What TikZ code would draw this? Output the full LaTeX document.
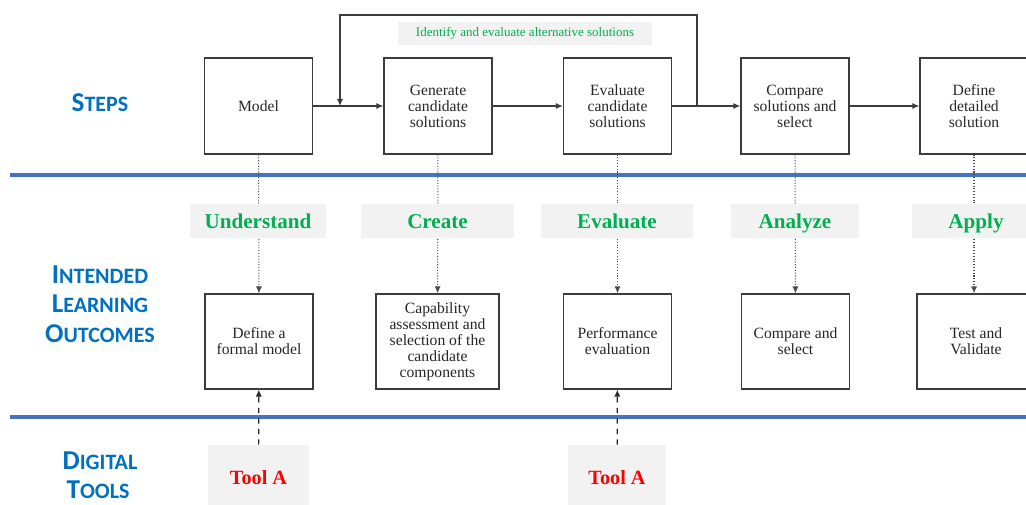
\documentclass[tikz,border=0pt]{standalone}
\usepackage{fontspec}
\setmainfont{Liberation Serif}
\newfontfamily\lanefont{Carlito}
\usetikzlibrary{arrows.meta}
\definecolor{laneblue}{RGB}{0,112,192}
\definecolor{rulerblue}{RGB}{68,114,196}
\definecolor{verbgreen}{RGB}{0,176,80}
\definecolor{tagfill}{RGB}{242,242,242}
\definecolor{edgegray}{RGB}{60,60,60}
\newcommand{\lanecap}[2]{{\fontsize{15.5}{15}\selectfont #1}{\fontsize{12.5}{15}\selectfont #2}}

\begin{document}
\begin{tikzpicture}[x=0.02cm, y=-0.02cm,
  box/.style={draw=edgegray, line width=0.7pt, fill=white, minimum width=2.16cm, minimum height=1.92cm, align=center, font=\fontsize{8.9}{9.1}\selectfont, text=black!85, inner sep=1pt},
  verb/.style={fill=tagfill, minimum height=0.68cm, text height=10.5pt, text depth=2.3pt, font=\fontsize{12}{14}\bfseries\selectfont, text=verbgreen},
  tool/.style={fill=tagfill, minimum height=1.32cm, font=\fontsize{11.5}{14}\bfseries\selectfont, text=red},
  lane/.style={font=\lanefont\bfseries, text=laneblue, align=center},
  arr/.style={-{Latex[length=4pt,width=3.5pt]}, draw=edgegray, line width=0.7pt},
  dots/.style={-{Latex[length=4pt,width=3.5pt]}, densely dotted, line width=0.6pt, draw=black!70},
  dashes/.style={-{Latex[length=4pt,width=3.5pt]}, dashed, line width=0.7pt, draw=black!85}]
  \useasboundingbox (0,0) rectangle (1026,504);
  \draw[rulerblue, line width=1.8pt] (10,175) -- (1026,175);
  \draw[rulerblue, line width=1.8pt] (10,417) -- (1026,417);

  \node[lane] (steps) at (100,103) {\lanecap{S}{TEPS}};
  \node[lane] (ilo1) at (100,275) {\lanecap{I}{NTENDED}};
  \node[lane] (ilo2) at (100,304) {\lanecap{L}{EARNING}};
  \node[lane] (ilo3) at (100,334) {\lanecap{O}{UTCOMES}};
  \node[lane] (dig1) at (100,461) {\lanecap{D}{IGITAL}};
  \node[lane] (dig2) at (98,490) {\lanecap{T}{OOLS}};

  \node[box] (model) at (258.5,106) {Model};
  \node[box] (generate) at (438,106) {Generate\\candidate\\solutions};
  \node[box] (evaluate) at (617.5,106) {Evaluate\\candidate\\solutions};
  \node[box] (compare) at (795,106) {Compare\\solutions and\\select};
  \node[box] (define) at (974,106) {Define\\detailed\\solution};

  \node[box, minimum height=1.9cm] (formal) at (259,341.5) {Define a\\formal model};
  \node[box, minimum height=1.9cm, minimum width=2.46cm] (capab) at (437.5,341.5) {Capability\\assessment and\\selection of the\\candidate\\components};
  \node[box, minimum height=1.9cm] (perf) at (617.5,341.5) {Performance\\evaluation};
  \node[box, minimum height=1.9cm] (select) at (795.5,341.5) {Compare and\\select};
  \node[box, minimum height=1.9cm, minimum width=2.36cm] (validate) at (976,341.5) {Test and\\Validate};

  \coordinate (fbin) at (340,106);
  \coordinate (fbout) at (697,106);
  \draw[arr] (model) -- (generate);
  \draw[arr] (generate) -- (evaluate);
  \draw[arr] (evaluate) -- (compare);
  \draw[arr] (compare) -- (define);
  \draw[arr] (fbout) -- ++(0,-91) -| (fbin);
  \node[fill=tagfill, minimum width=5.08cm, minimum height=0.42cm, font=\fontsize{7.4}{9}\selectfont, text=verbgreen] (alt) at (525,33.5) {Identify and evaluate alternative solutions};

  \draw[dots] (model) -- (formal);
  \draw[dots] (generate) -- (capab);
  \draw[dots] (evaluate) -- (perf);
  \draw[dots] (compare) -- (select);
  \draw[dots] (define.south) -- (define.south |- validate.north);

  \node[verb, minimum width=2.74cm] (understand) at (258,221) {Understand};
  \node[verb, minimum width=3.06cm] (create) at (437.5,221) {Create};
  \node[verb, minimum width=3.04cm] (evalverb) at (617,221) {Evaluate};
  \node[verb, minimum width=2.56cm] (analyze) at (795,221) {Analyze};
  \node[verb, minimum width=2.56cm] (apply) at (976,221) {Apply};

  \node[tool, minimum width=2.02cm] (toola) at (258.5,478) {Tool A};
  \node[tool, minimum width=1.96cm] (toolb) at (617,478) {Tool A};
  \draw[dashes] (toola) -- (formal);
  \draw[dashes] (toolb) -- (perf);
\end{tikzpicture}
\end{document}
